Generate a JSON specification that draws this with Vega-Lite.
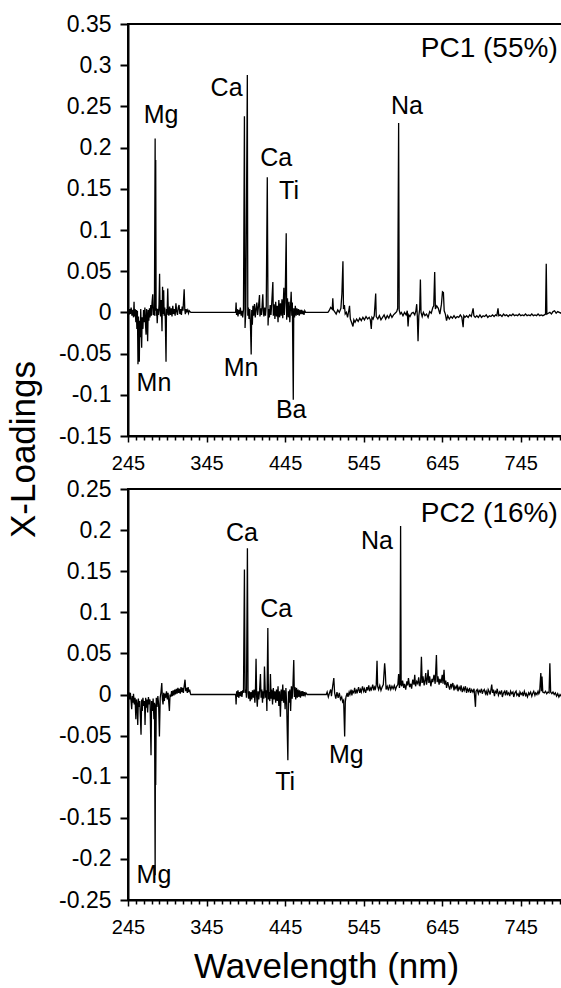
{
  "$schema": "https://vega.github.io/schema/vega-lite/v6.json",
  "background": "white",
  "padding": {"left": 5, "top": 12, "right": 0, "bottom": 0},
  "spacing": 53,
  "bounds": "flush",
  "config": {
    "font": "Liberation Sans",
    "axis": {"domainColor": "black", "domainWidth": 2, "tickColor": "black", "labelColor": "black", "labelFont": "Liberation Sans", "titleFont": "Liberation Sans", "titleColor": "black", "titleFontWeight": "normal", "grid": false, "labelFlush": false, "labelOverlap": false},
    "view": {"stroke": "black", "strokeWidth": 2}
  },
  "datasets": {
    "pc1": [
      {"w":245,"v":0.002},{"w":246,"v":-0.003},{"w":247,"v":0.004},{"w":248,"v":-0.002},{"w":249,"v":0.006},{"w":250,"v":-0.004},{"w":251,"v":0.003},{"w":252,"v":-0.006},{"w":252.7,"v":0.013},{"w":253.2,"v":-0.005},{"w":254,"v":0.004},{"w":255,"v":-0.012},{"w":255.6,"v":0.003},{"w":256.3,"v":-0.02},{"w":257,"v":0.002},{"w":257.7,"v":-0.063},{"w":258.3,"v":-0.005},{"w":259.4,"v":-0.06},{"w":260,"v":-0.01},{"w":260.6,"v":-0.03},{"w":261.2,"v":0.004},{"w":262.4,"v":-0.043},{"w":263,"v":-0.006},{"w":264,"v":-0.02},{"w":264.8,"v":0.003},{"w":265.6,"v":-0.012},{"w":266.5,"v":0.006},{"w":267.3,"v":-0.015},{"w":268,"v":-0.027},{"w":268.7,"v":0.004},{"w":269.4,"v":-0.008},{"w":270,"v":-0.035},{"w":270.7,"v":0.003},{"w":271.5,"v":-0.01},{"w":272.3,"v":0.005},{"w":273,"v":-0.006},{"w":274,"v":0.009},{"w":274.8,"v":-0.004},{"w":275.6,"v":0.012},{"w":276.5,"v":0.022},{"w":277.2,"v":-0.003},{"w":278,"v":0.006},{"w":278.6,"v":-0.004},{"w":279.55,"v":0.211},{"w":280,"v":0.002},{"w":280.27,"v":0.185},{"w":280.8,"v":-0.004},{"w":281.5,"v":0.005},{"w":282.2,"v":-0.013},{"w":283,"v":0.004},{"w":283.8,"v":-0.003},{"w":284.5,"v":0.01},{"w":285.2,"v":0.047},{"w":285.8,"v":0.002},{"w":286.5,"v":-0.005},{"w":287.3,"v":0.015},{"w":288.3,"v":-0.023},{"w":289,"v":0.031},{"w":289.7,"v":-0.002},{"w":290.4,"v":0.027},{"w":291,"v":-0.004},{"w":291.8,"v":0.006},{"w":292.5,"v":-0.008},{"w":293.4,"v":-0.06},{"w":294,"v":0.004},{"w":294.8,"v":-0.003},{"w":295.6,"v":0.029},{"w":296.3,"v":0.001},{"w":297,"v":-0.004},{"w":298,"v":0.007},{"w":299,"v":-0.003},{"w":300,"v":0.005},{"w":301,"v":-0.005},{"w":302,"v":0.008},{"w":303,"v":-0.002},{"w":304,"v":0.004},{"w":305,"v":-0.004},{"w":306,"v":0.011},{"w":307,"v":0.001},{"w":308,"v":-0.003},{"w":309,"v":0.006},{"w":310,"v":0.009},{"w":311,"v":-0.002},{"w":312,"v":0.004},{"w":313,"v":-0.003},{"w":314,"v":0.007},{"w":315,"v":0.002},{"w":316.5,"v":0.028},{"w":317.3,"v":0.003},{"w":318,"v":-0.002},{"w":319,"v":0.004},{"w":320,"v":0.001},{"w":321,"v":0.003},{"w":322,"v":-0.001},{"w":323,"v":0.002},{"w":324,"v":0.001},{"w":325,"v":0},
      {"w":382,"v":0},{"w":382.6,"v":0.012},{"w":383.2,"v":-0.003},{"w":384,"v":0.004},{"w":385,"v":-0.005},{"w":386,"v":0.003},{"w":387,"v":-0.002},{"w":388,"v":0.006},{"w":389,"v":-0.004},{"w":390,"v":0.002},{"w":391,"v":-0.006},{"w":392,"v":0.004},{"w":393.2,"v":0.238},{"w":394,"v":-0.019},{"w":395,"v":0.003},{"w":396.9,"v":0.288},{"w":397.5,"v":-0.004},{"w":398.3,"v":0.006},{"w":399,"v":-0.008},{"w":400,"v":0.004},{"w":400.8,"v":-0.012},{"w":401.8,"v":-0.051},{"w":402.5,"v":0.003},{"w":403.3,"v":-0.015},{"w":404,"v":0.008},{"w":405,"v":-0.004},{"w":406,"v":0.01},{"w":407,"v":-0.006},{"w":408,"v":0.004},{"w":409,"v":0.012},{"w":410,"v":-0.003},{"w":411,"v":0.006},{"w":412.4,"v":0.021},{"w":413,"v":-0.005},{"w":414,"v":0.005},{"w":415,"v":-0.003},{"w":416.6,"v":0.022},{"w":417.3,"v":0.002},{"w":418,"v":-0.005},{"w":419,"v":0.006},{"w":420,"v":-0.004},{"w":421,"v":0.008},{"w":422.3,"v":0.164},{"w":423.3,"v":-0.016},{"w":424,"v":0.004},{"w":425,"v":-0.006},{"w":426,"v":0.009},{"w":427,"v":-0.003},{"w":428,"v":0.012},{"w":429.4,"v":0.037},{"w":430,"v":-0.004},{"w":431,"v":0.01},{"w":432,"v":-0.008},{"w":433,"v":0.013},{"w":434,"v":-0.005},{"w":435,"v":0.008},{"w":436,"v":-0.012},{"w":437,"v":0.015},{"w":438,"v":-0.006},{"w":439,"v":0.011},{"w":440,"v":-0.004},{"w":441,"v":0.016},{"w":442,"v":-0.007},{"w":443.4,"v":0.03},{"w":444,"v":-0.003},{"w":445,"v":0.012},{"w":446.4,"v":0.096},{"w":447,"v":-0.009},{"w":448,"v":0.017},{"w":449,"v":-0.006},{"w":450,"v":0.013},{"w":451,"v":-0.012},{"w":452.7,"v":0.025},{"w":453.5,"v":-0.004},{"w":454.2,"v":0.012},{"w":455.4,"v":-0.106},{"w":456,"v":0.005},{"w":457,"v":-0.006},{"w":458,"v":0.008},{"w":459,"v":-0.004},{"w":460,"v":0.005},{"w":461,"v":-0.003},{"w":462,"v":0.004},{"w":463,"v":-0.004},{"w":464,"v":0.003},{"w":465,"v":-0.002},{"w":466,"v":0.003},{"w":467,"v":-0.002},{"w":468,"v":0.002},{"w":469,"v":-0.003},{"w":470,"v":0.002},{"w":471,"v":0},{"w":472,"v":0},
      {"w":499.5,"v":0},{"w":501,"v":0.002},{"w":503,"v":0.006},{"w":505,"v":0.004},{"w":505.7,"v":0.017},{"w":506.5,"v":0.003},{"w":508,"v":0.001},{"w":510,"v":-0.002},{"w":512,"v":0.003},{"w":514,"v":0},{"w":516,"v":0.005},{"w":517.3,"v":0.023},{"w":518.6,"v":0.062},{"w":519.3,"v":0.004},{"w":520.5,"v":0.009},{"w":521.5,"v":-0.002},{"w":523,"v":0},{"w":524.5,"v":-0.006},{"w":526,"v":0.002},{"w":527,"v":0.008},{"w":528,"v":-0.008},{"w":529.5,"v":-0.012},{"w":531.4,"v":-0.017},{"w":532.5,"v":-0.009},{"w":534,"v":-0.012},{"w":536,"v":-0.008},{"w":538,"v":-0.011},{"w":540,"v":-0.007},{"w":542,"v":-0.01},{"w":544,"v":-0.006},{"w":546,"v":-0.009},{"w":548,"v":-0.005},{"w":550,"v":-0.008},{"w":552,"v":-0.006},{"w":553.5,"v":-0.009},{"w":554.7,"v":-0.02},{"w":555.5,"v":-0.006},{"w":557,"v":-0.008},{"w":558.5,"v":-0.004},{"w":560.3,"v":0.023},{"w":561,"v":-0.005},{"w":563,"v":-0.008},{"w":565,"v":-0.004},{"w":567,"v":-0.009},{"w":569,"v":-0.006},{"w":571,"v":-0.003},{"w":573,"v":-0.008},{"w":575,"v":-0.004},{"w":577,"v":-0.007},{"w":579,"v":-0.002},{"w":581,"v":-0.006},{"w":583,"v":-0.003},{"w":585,"v":-0.001},{"w":587,"v":0.001},{"w":588.3,"v":0.005},{"w":589.5,"v":0.23},{"w":590.2,"v":0.003},{"w":591.5,"v":-0.002},{"w":593,"v":0},{"w":595,"v":-0.004},{"w":597,"v":0},{"w":599,"v":-0.003},{"w":600.5,"v":0.002},{"w":601.5,"v":-0.017},{"w":602.5,"v":-0.003},{"w":604,"v":-0.005},{"w":606,"v":-0.001},{"w":608,"v":0},{"w":610,"v":-0.003},{"w":611.5,"v":0.002},{"w":612.5,"v":0.01},{"w":613.3,"v":-0.005},{"w":614.2,"v":-0.035},{"w":615.2,"v":-0.004},{"w":616.3,"v":0.004},{"w":617.2,"v":0.04},{"w":618,"v":0},{"w":619.5,"v":-0.005},{"w":621,"v":0},{"w":623,"v":-0.004},{"w":625,"v":-0.002},{"w":627,"v":-0.006},{"w":629,"v":0.001},{"w":631,"v":-0.001},{"w":633,"v":0.006},{"w":634.2,"v":0.008},{"w":635.4,"v":0.049},{"w":636.3,"v":0.004},{"w":638,"v":0.008},{"w":640,"v":0.005},{"w":642,"v":-0.002},{"w":644,"v":0.01},{"w":645.3,"v":0.025},{"w":646.5,"v":0.024},{"w":647.5,"v":0.002},{"w":649,"v":-0.002},{"w":650.5,"v":-0.01},{"w":652,"v":-0.004},{"w":654,"v":-0.008},{"w":656,"v":-0.005},{"w":658,"v":-0.007},{"w":660,"v":-0.004},{"w":662,"v":-0.007},{"w":664,"v":-0.005},{"w":666,"v":-0.006},{"w":668,"v":-0.003},{"w":670,"v":-0.006},{"w":671.6,"v":-0.018},{"w":672.5,"v":-0.004},{"w":674,"v":-0.006},{"w":676,"v":-0.004},{"w":678,"v":-0.006},{"w":680,"v":-0.003},{"w":682,"v":-0.005},{"w":684.3,"v":0.005},{"w":685.3,"v":-0.004},{"w":687,"v":-0.006},{"w":689,"v":-0.004},{"w":691,"v":-0.006},{"w":693,"v":-0.003},{"w":695,"v":-0.006},{"w":697,"v":-0.004},{"w":699,"v":-0.005},{"w":701,"v":-0.003},{"w":703,"v":-0.006},{"w":705,"v":-0.004},{"w":707,"v":-0.005},{"w":709,"v":-0.003},{"w":711,"v":-0.005},{"w":713,"v":-0.003},{"w":714.5,"v":-0.004},{"w":716,"v":0.005},{"w":717,"v":-0.004},{"w":719,"v":-0.003},{"w":721,"v":-0.005},{"w":723,"v":-0.002},{"w":725,"v":-0.004},{"w":727,"v":-0.003},{"w":729,"v":-0.005},{"w":731,"v":-0.003},{"w":733,"v":-0.004},{"w":735,"v":-0.002},{"w":737,"v":-0.004},{"w":739,"v":-0.003},{"w":741,"v":-0.004},{"w":743,"v":-0.002},{"w":745,"v":-0.004},{"w":747,"v":-0.003},{"w":749,"v":-0.004},{"w":751,"v":-0.002},{"w":753,"v":-0.004},{"w":755,"v":-0.003},{"w":757,"v":-0.004},{"w":759,"v":-0.002},{"w":761,"v":-0.004},{"w":763,"v":-0.003},{"w":765,"v":-0.004},{"w":767,"v":-0.002},{"w":769,"v":-0.004},{"w":771,"v":-0.003},{"w":773,"v":-0.004},{"w":775,"v":-0.003},{"w":776.5,"v":-0.002},{"w":777.4,"v":0.059},{"w":778.2,"v":-0.002},{"w":780,"v":-0.001},{"w":782,"v":0},{"w":784,"v":-0.002},{"w":786,"v":0.001},{"w":788,"v":0.002},{"w":790,"v":-0.001},{"w":792,"v":0.001},{"w":794,"v":0},{"w":796,"v":-0.001},{"w":798,"v":0.002},{"w":800,"v":0}
    ],
    "pc2": [
      {"w":245,"v":-0.002},{"w":246,"v":0.003},{"w":247,"v":-0.006},{"w":248,"v":0.002},{"w":249,"v":-0.009},{"w":249.7,"v":-0.018},{"w":250.5,"v":-0.002},{"w":251.3,"v":-0.01},{"w":252,"v":0.001},{"w":253,"v":-0.012},{"w":254,"v":-0.004},{"w":255,"v":-0.03},{"w":255.8,"v":-0.006},{"w":256.6,"v":-0.012},{"w":257.4,"v":-0.037},{"w":258.2,"v":-0.005},{"w":259,"v":-0.015},{"w":260,"v":-0.008},{"w":261.6,"v":-0.049},{"w":262.4,"v":-0.006},{"w":263.2,"v":-0.02},{"w":264,"v":-0.004},{"w":265,"v":-0.014},{"w":266,"v":-0.008},{"w":266.7,"v":-0.037},{"w":267.5,"v":-0.004},{"w":268.3,"v":-0.016},{"w":269.2,"v":-0.006},{"w":270,"v":-0.022},{"w":271,"v":-0.003},{"w":272,"v":-0.012},{"w":273,"v":-0.006},{"w":274.3,"v":-0.074},{"w":275,"v":-0.008},{"w":276,"v":-0.02},{"w":277,"v":-0.005},{"w":278,"v":-0.03},{"w":278.8,"v":-0.01},{"w":279.55,"v":-0.22},{"w":280,"v":-0.012},{"w":280.27,"v":-0.11},{"w":281,"v":-0.004},{"w":282,"v":-0.015},{"w":283,"v":-0.002},{"w":284,"v":-0.012},{"w":285,"v":-0.051},{"w":286,"v":-0.004},{"w":287,"v":0.003},{"w":288,"v":0.014},{"w":288.8,"v":-0.006},{"w":289.6,"v":-0.012},{"w":290.5,"v":0.002},{"w":291.3,"v":-0.008},{"w":292,"v":0.001},{"w":293,"v":-0.004},{"w":294,"v":0.004},{"w":295,"v":-0.006},{"w":296,"v":0.002},{"w":297.7,"v":-0.02},{"w":298.5,"v":0},{"w":299.5,"v":-0.003},{"w":300.5,"v":0.004},{"w":301.5,"v":-0.002},{"w":302.5,"v":0.005},{"w":303.5,"v":-0.001},{"w":304.5,"v":0.006},{"w":305.5,"v":0},{"w":306.5,"v":0.007},{"w":307.5,"v":0.001},{"w":308.5,"v":0.008},{"w":309.5,"v":0.002},{"w":310.5,"v":0.007},{"w":311.5,"v":0.001},{"w":312.5,"v":0.009},{"w":313.5,"v":0.003},{"w":314.5,"v":0.008},{"w":315.5,"v":0.002},{"w":316.5,"v":0.01},{"w":317.6,"v":0.018},{"w":318.5,"v":0.004},{"w":319.5,"v":0.008},{"w":320.5,"v":0.002},{"w":321.5,"v":0.009},{"w":322.5,"v":0.003},{"w":323.5,"v":0.006},{"w":324.5,"v":0.001},{"w":325,"v":0},
      {"w":382,"v":0},{"w":382.6,"v":-0.012},{"w":383.3,"v":0.004},{"w":384,"v":-0.003},{"w":385,"v":0.005},{"w":386,"v":-0.004},{"w":387,"v":0.003},{"w":388,"v":-0.002},{"w":389,"v":0.004},{"w":390,"v":-0.003},{"w":391,"v":0.005},{"w":392,"v":0.002},{"w":393.2,"v":0.152},{"w":394,"v":0.002},{"w":395,"v":0.006},{"w":395.8,"v":-0.004},{"w":397,"v":0.178},{"w":397.8,"v":0.002},{"w":398.5,"v":-0.005},{"w":399.5,"v":0.004},{"w":400.5,"v":-0.008},{"w":401.5,"v":0.003},{"w":402.5,"v":-0.006},{"w":403.5,"v":0.005},{"w":404.5,"v":-0.004},{"w":405.5,"v":0.006},{"w":406.5,"v":-0.01},{"w":407.2,"v":0.002},{"w":408,"v":0.0435},{"w":408.8,"v":-0.003},{"w":409.6,"v":-0.015},{"w":410.5,"v":0.004},{"w":411.5,"v":-0.006},{"w":412.5,"v":0.005},{"w":413.6,"v":0.025},{"w":414.4,"v":-0.004},{"w":415.3,"v":0.006},{"w":416.2,"v":-0.01},{"w":417,"v":0.004},{"w":418,"v":-0.005},{"w":418.7,"v":0.034},{"w":420,"v":-0.004},{"w":421,"v":0.005},{"w":421.8,"v":-0.02},{"w":423,"v":0.081},{"w":423.8,"v":-0.006},{"w":424.6,"v":0.003},{"w":425.5,"v":-0.008},{"w":426.3,"v":0.025},{"w":427.2,"v":-0.005},{"w":428,"v":0.006},{"w":429,"v":-0.012},{"w":430,"v":0.008},{"w":431,"v":-0.006},{"w":432,"v":0.004},{"w":433,"v":-0.01},{"w":434,"v":0.006},{"w":435,"v":-0.008},{"w":436,"v":0.01},{"w":437,"v":-0.014},{"w":438,"v":0.004},{"w":439,"v":-0.027},{"w":440,"v":0.006},{"w":441,"v":-0.008},{"w":442,"v":0.012},{"w":443,"v":-0.01},{"w":444,"v":0.005},{"w":445,"v":-0.018},{"w":446,"v":0.008},{"w":447,"v":-0.012},{"w":448.5,"v":-0.08},{"w":449.3,"v":0.004},{"w":450,"v":-0.01},{"w":451,"v":0.006},{"w":452,"v":-0.02},{"w":453,"v":0.01},{"w":454,"v":-0.005},{"w":455,"v":0.012},{"w":456,"v":0.042},{"w":456.8,"v":-0.003},{"w":457.6,"v":0.009},{"w":458.5,"v":-0.006},{"w":459.5,"v":0.008},{"w":460.5,"v":-0.004},{"w":461.5,"v":0.006},{"w":462.5,"v":-0.003},{"w":463.5,"v":0.005},{"w":464.5,"v":-0.004},{"w":465.5,"v":0.004},{"w":466.5,"v":-0.002},{"w":467.5,"v":0.004},{"w":468.5,"v":-0.002},{"w":469.5,"v":0.003},{"w":470.5,"v":-0.001},{"w":471.5,"v":0.002},{"w":473,"v":0},
      {"w":497.4,"v":0},{"w":498.5,"v":0.003},{"w":500,"v":-0.003},{"w":501.5,"v":0.002},{"w":503,"v":0.006},{"w":504,"v":-0.002},{"w":505.5,"v":0.01},{"w":507,"v":0.02},{"w":508,"v":0.002},{"w":509.5,"v":-0.005},{"w":511,"v":0.003},{"w":512.5,"v":-0.004},{"w":514,"v":0.002},{"w":515.5,"v":-0.006},{"w":517,"v":-0.003},{"w":518.2,"v":-0.009},{"w":519.5,"v":-0.007},{"w":520.8,"v":-0.051},{"w":521.6,"v":-0.009},{"w":522.5,"v":-0.003},
      {"w":524,"v":0.002},{"w":525,"v":-0.003},{"w":526.5,"v":0.003},{"w":527.5,"v":0},{"w":529,"v":0.006},{"w":530,"v":-0.001},{"w":531,"v":0.004},{"w":532.5,"v":0.002},{"w":533.5,"v":0.008},{"w":535,"v":0.001},{"w":536,"v":0.005},{"w":537,"v":0.003},{"w":538.5,"v":0.009},{"w":540,"v":0.002},{"w":541,"v":0.006},{"w":542,"v":0.003},{"w":543.5,"v":0.01},{"w":545,"v":0.004},{"w":546,"v":0.007},{"w":547.5,"v":0.002},{"w":549,"v":0.009},{"w":550,"v":0.005},{"w":551.5,"v":0.011},{"w":552.5,"v":0.004},{"w":554,"v":0.008},{"w":555,"v":0.006},{"w":556.5,"v":0.012},{"w":558,"v":0.005},{"w":559,"v":0.009},{"w":560,"v":0.007},{"w":561,"v":0.012},
      {"w":562,"v":0.041},{"w":562.8,"v":0.01},{"w":564,"v":0.006},{"w":565.5,"v":0.011},{"w":567,"v":0.005},{"w":568.5,"v":0.009},{"w":570,"v":0.012},{"w":571.7,"v":0.038},{"w":572.5,"v":0.028},{"w":573.5,"v":0.006},{"w":575,"v":0.01},{"w":576.5,"v":0.005},{"w":578,"v":0.012},{"w":579.5,"v":0.006},{"w":581,"v":0.01},{"w":582.5,"v":0.007},{"w":584,"v":0.011},{"w":585.5,"v":0.006},{"w":587,"v":0.01},{"w":588.5,"v":0.012},{"w":589.5,"v":0.025},{"w":590.5,"v":0.008},{"w":591.3,"v":0.014},{"w":592,"v":0.205},{"w":592.7,"v":0.012},
      {"w":593.5,"v":0.01},{"w":594.5,"v":0.017},{"w":596,"v":0.008},{"w":597,"v":0.013},{"w":598.5,"v":0.006},{"w":600,"v":0.016},{"w":601,"v":0.011},{"w":602,"v":0.02},{"w":603.5,"v":0.009},{"w":605,"v":0.013},{"w":606,"v":0.007},{"w":607.5,"v":0.018},{"w":609,"v":0.012},{"w":610,"v":0.024},{"w":611,"v":0.01},{"w":612.5,"v":0.016},{"w":614,"v":0.013},{"w":615,"v":0.021},{"w":616.5,"v":0.01},{"w":617.5,"v":0.015},{"w":618.5,"v":0.046},{"w":619.5,"v":0.014},{"w":620.5,"v":0.022},{"w":622,"v":0.011},{"w":623,"v":0.017},{"w":624,"v":0.026},{"w":625,"v":0.012},{"w":626,"v":0.018},{"w":627,"v":0.03},{"w":628,"v":0.014},{"w":629,"v":0.022},{"w":630.5,"v":0.01},{"w":632,"v":0.019},{"w":633,"v":0.015},{"w":634.5,"v":0.024},{"w":636,"v":0.013},{"w":637.6,"v":0.048},{"w":638.5,"v":0.015},{"w":639.5,"v":0.022},{"w":641,"v":0.012},{"w":642,"v":0.019},{"w":643.5,"v":0.014},{"w":645,"v":0.024},{"w":646,"v":0.013},{"w":647.3,"v":0.03},{"w":648.2,"v":0.012},{"w":649.5,"v":0.017},{"w":650.5,"v":0.008},{"w":652,"v":0.015},{"w":653,"v":0.011},{"w":654.5,"v":0.006},{"w":656,"v":0.013},{"w":657,"v":0.009},{"w":658.5,"v":0.014},{"w":660,"v":0.005},{"w":661,"v":0.01},{"w":662.5,"v":0.007},{"w":664,"v":0.012},{"w":665,"v":0.004},{"w":666.5,"v":0.009},{"w":668,"v":0.006},{"w":669,"v":0.011},{"w":670.5,"v":0.003},{"w":672,"v":0.008},{"w":673,"v":0.005},{"w":674.5,"v":0.01},{"w":676,"v":0.002},{"w":677,"v":0.007},{"w":678.5,"v":0.004},{"w":680,"v":0.008},{"w":681,"v":0.002},{"w":682.5,"v":0.006},{"w":684,"v":0.003},{"w":685.5,"v":0.007},{"w":687.3,"v":-0.015},{"w":688,"v":0.004},{"w":689.5,"v":0.006},{"w":691,"v":0.001},{"w":692,"v":0.005},{"w":693.5,"v":0.003},{"w":695,"v":0.007},{"w":696,"v":0.001},{"w":697,"v":0.004},
      {"w":698.5,"v":0.006},{"w":700,"v":0.001},{"w":701,"v":0.004},{"w":702.5,"v":-0.001},{"w":703.5,"v":0.006},{"w":705,"v":0.003},{"w":706,"v":0},{"w":708,"v":0.012},{"w":709,"v":0.002},{"w":710,"v":0.006},{"w":711.5,"v":-0.002},{"w":712.5,"v":0.004},{"w":714,"v":0.002},{"w":715,"v":0.007},{"w":716.5,"v":-0.001},{"w":718,"v":0.003},{"w":719,"v":0.001},{"w":720.5,"v":0.005},{"w":721.5,"v":-0.003},{"w":723,"v":0.002},{"w":724.5,"v":0.004},{"w":725.5,"v":-0.001},{"w":727,"v":0.005},{"w":728,"v":0},{"w":729.5,"v":0.002},{"w":731,"v":-0.002},{"w":732,"v":0.004},{"w":733.5,"v":0.001},{"w":735,"v":0.003},{"w":736,"v":-0.003},{"w":737.5,"v":0.002},{"w":739,"v":0.004},{"w":740,"v":-0.001},{"w":741.5,"v":0.001},{"w":743,"v":-0.003},{"w":744,"v":0.003},{"w":745.5,"v":0},{"w":747,"v":0.002},{"w":748,"v":-0.002},{"w":749.5,"v":0.004},{"w":751,"v":-0.001},{"w":752,"v":0.001},{"w":753.5,"v":-0.003},{"w":755,"v":0.002},{"w":756,"v":0},{"w":757.5,"v":0.003},{"w":759,"v":-0.002},{"w":760,"v":0.001},{"w":761.5,"v":0.004},{"w":763,"v":-0.001},{"w":764,"v":0.002},{"w":765.5,"v":0},{"w":767,"v":0.004},{"w":768,"v":0.001},{"w":769,"v":0.003},
      {"w":770.5,"v":0.026},{"w":771.3,"v":0.004},{"w":772,"v":0.022},{"w":773,"v":0.003},{"w":775,"v":0.002},{"w":776.5,"v":0.004},{"w":778,"v":0.001},{"w":779.5,"v":0.003},{"w":781,"v":0.002},{"w":782,"v":0.038},{"w":783,"v":0.003},{"w":784.5,"v":0.001},{"w":786,"v":0.003},{"w":787.5,"v":0},{"w":789,"v":0.002},{"w":790.5,"v":-0.002},{"w":792,"v":0.001},{"w":793.5,"v":-0.003},{"w":795,"v":0},{"w":796.5,"v":-0.002},{"w":798,"v":0.001},{"w":800,"v":0}
    ],
    "lab1": [
      {"w":287,"v":0.24,"t":"Mg"},{"w":370.5,"v":0.272,"t":"Ca"},{"w":433.6,"v":0.187,"t":"Ca"},{"w":450,"v":0.147,"t":"Ti"},{"w":600,"v":0.25,"t":"Na"},{"w":278,"v":-0.086,"t":"Mn"},{"w":389,"v":-0.068,"t":"Mn"},{"w":452.8,"v":-0.118,"t":"Ba"}
    ],
    "lab2": [
      {"w":390,"v":0.197,"t":"Ca"},{"w":433.6,"v":0.104,"t":"Ca"},{"w":562,"v":0.187,"t":"Na"},{"w":445,"v":-0.106,"t":"Ti"},{"w":523,"v":-0.0735,"t":"Mg"},{"w":278,"v":-0.22,"t":"Mg"}
    ]
  },
  "vconcat": [
    {
      "width": 436,
      "height": 412,
      "encoding": {
        "x": {"field": "w", "type": "quantitative", "scale": {"domain": [245, 800], "nice": false, "zero": false},
          "axis": {"title": null, "values": [245,255,265,275,285,295,305,315,325,335,345,355,365,375,385,395,405,415,425,435,445,455,465,475,485,495,505,515,525,535,545,555,565,575,585,595,605,615,625,635,645,655,665,675,685,695,705,715,725,735,745,755,765,775,785,795],
            "labelExpr": "(datum.value - 245) % 100 === 0 ? '' + datum.value : ''",
            "tickSize": {"condition": {"test": "(datum.value - 245) % 100 === 0", "value": 6}, "value": 4},
            "tickWidth": 1.5, "labelFontSize": 20, "labelPadding": 11}},
        "y": {"field": "v", "type": "quantitative", "scale": {"domain": [-0.15, 0.35], "nice": false, "zero": false},
          "axis": {"values": [-0.15,-0.1,-0.05,0,0.05,0.1,0.15,0.2,0.25,0.3,0.35],
            "labelExpr": "replace(format(datum.value, '~g'), '\u2212', '-')",
            "tickSize": 8, "tickWidth": 2, "labelFontSize": 23, "labelPadding": 9,
            "title": "X-Loadings", "titleFontSize": 35, "titleX": -105, "titleY": 425, "titleAngle": -90, "titleAlign": "center", "titleBaseline": "middle"}}
      },
      "layer": [
        {"data": {"name": "pc1"}, "mark": {"type": "line", "color": "black", "strokeWidth": 1.3, "clip": true}},
        {"data": {"name": "lab1"}, "mark": {"type": "text", "fontSize": 25, "color": "black", "align": "center", "baseline": "middle"}, "encoding": {"text": {"field": "t"}}},
        {"data": {"values": [{"w": 792, "v": 0.32, "t": "PC1 (55%)"}]}, "mark": {"type": "text", "fontSize": 28, "color": "black", "align": "right", "baseline": "middle"}, "encoding": {"text": {"field": "t"}}}
      ]
    },
    {
      "width": 436,
      "height": 411,
      "encoding": {
        "x": {"field": "w", "type": "quantitative", "scale": {"domain": [245, 800], "nice": false, "zero": false},
          "axis": {"title": "Wavelength (nm)", "titleFontSize": 35, "titleX": 198, "titleY": 77, "titleAlign": "center", "titleBaseline": "alphabetic",
            "values": [245,255,265,275,285,295,305,315,325,335,345,355,365,375,385,395,405,415,425,435,445,455,465,475,485,495,505,515,525,535,545,555,565,575,585,595,605,615,625,635,645,655,665,675,685,695,705,715,725,735,745,755,765,775,785,795],
            "labelExpr": "(datum.value - 245) % 100 === 0 ? '' + datum.value : ''",
            "tickSize": {"condition": {"test": "(datum.value - 245) % 100 === 0", "value": 6}, "value": 4},
            "tickWidth": 1.5, "labelFontSize": 20, "labelPadding": 11}},
        "y": {"field": "v", "type": "quantitative", "scale": {"domain": [-0.25, 0.25], "nice": false, "zero": false},
          "axis": {"title": null, "values": [-0.25,-0.2,-0.15,-0.1,-0.05,0,0.05,0.1,0.15,0.2,0.25],
            "labelExpr": "replace(format(datum.value, '~g'), '\u2212', '-')",
            "tickSize": 8, "tickWidth": 2, "labelFontSize": 23, "labelPadding": 9}}
      },
      "layer": [
        {"data": {"name": "pc2"}, "mark": {"type": "line", "color": "black", "strokeWidth": 1.3, "clip": true}},
        {"data": {"name": "lab2"}, "mark": {"type": "text", "fontSize": 25, "color": "black", "align": "center", "baseline": "middle"}, "encoding": {"text": {"field": "t"}}},
        {"data": {"values": [{"w": 792, "v": 0.219, "t": "PC2 (16%)"}]}, "mark": {"type": "text", "fontSize": 28, "color": "black", "align": "right", "baseline": "middle"}, "encoding": {"text": {"field": "t"}}}
      ]
    }
  ]
}
